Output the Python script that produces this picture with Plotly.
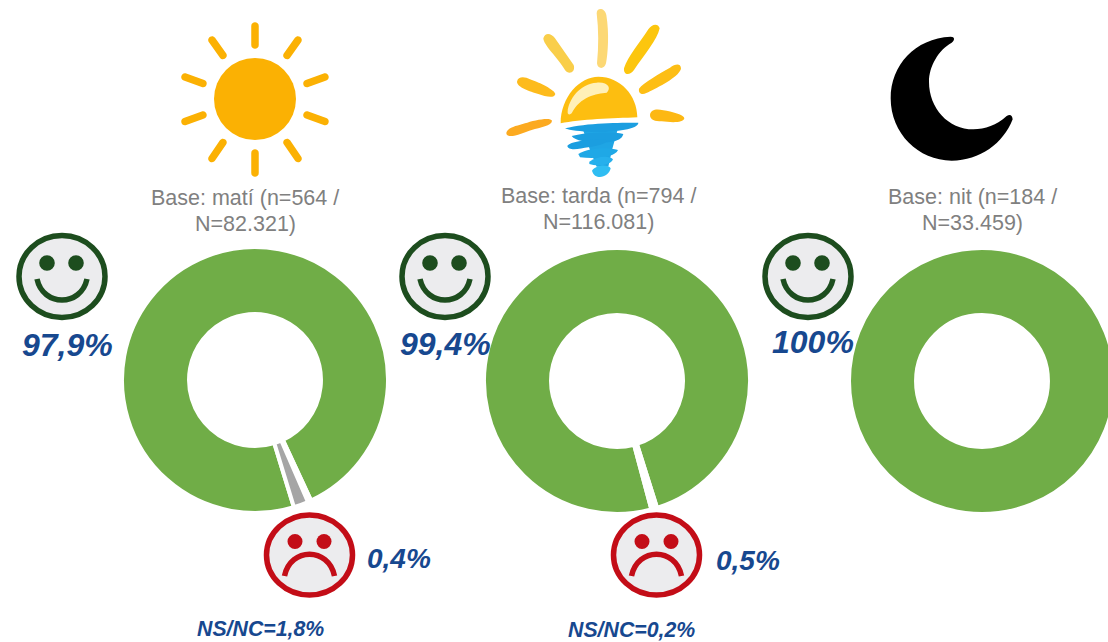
import re
import math
import plotly.graph_objects as go

# ---- data ----
periods = ["matí", "tarda", "nit"]
slices = ["Satisfet", "Insatisfet", "NS/NC"]
mati_values = [97.9, 0.4, 1.8]
tarda_values = [99.4, 0.5, 0.2]
nit_values = [100.0]
slice_colors = ["#70AD47", "#FFFFFF", "#A5A5A5"]
base_line1 = ["Base: matí (n=564 /", "Base: tarda (n=794 /", "Base: nit (n=184 /"]
base_line2 = ["N=82.321)", "N=116.081)", "N=33.459)"]
happy_labels = ["97,9%", "99,4%", "100%"]
sad_labels = ["0,4%", "0,5%"]
nsnc_labels = ["NS/NC=1,8%", "NS/NC=0,2%"]

# ---- canvas (third ring runs off the right edge of the window) ----
W, H = 1120, 642
FONT = "Liberation Sans, Arial, sans-serif"
BLUE = "#17488F"
GREY = "#808080"


def fx(x):
    return x / W


def fy(y):
    return 1 - y / H


def px_path(d):
    """SVG path in pixels (y down) -> path in paper coordinates."""
    out, axis = [], 0
    for tok in re.findall(r"[A-Za-z]|-?\d+\.?\d*", d):
        if tok.isalpha():
            out.append(tok)
            axis = 0
        else:
            v = float(tok)
            out.append(f"{fx(v) if axis == 0 else fy(v):.5f}")
            axis = 1 - axis
    return " ".join(out)


shapes = []


def fill_path(d, color):
    shapes.append(dict(type="path", xref="paper", yref="paper", path=px_path(d),
                       fillcolor=color, line=dict(width=0), layer="above"))


def stroke_path(d, color, width):
    shapes.append(dict(type="path", xref="paper", yref="paper", path=px_path(d),
                       line=dict(color=color, width=width), layer="above"))


def ellipse(cx, cy, rx, ry, fill, line=None, lw=0):
    shapes.append(dict(type="circle", xref="paper", yref="paper",
                       x0=fx(cx - rx), x1=fx(cx + rx), y0=fy(cy + ry), y1=fy(cy - ry),
                       fillcolor=fill, line=dict(color=line, width=lw) if line else dict(width=0),
                       layer="above"))


def capsule(x1, y1, x2, y2, w, color):
    r = w / 2
    L = math.hypot(x2 - x1, y2 - y1)
    ux, uy = (x2 - x1) / L, (y2 - y1) / L
    nx, ny = -uy * r, ux * r
    k = 1.33 * r
    d = (f"M {x1+nx} {y1+ny} L {x2+nx} {y2+ny} "
         f"C {x2+nx+ux*k} {y2+ny+uy*k} {x2-nx+ux*k} {y2-ny+uy*k} {x2-nx} {y2-ny} "
         f"L {x1-nx} {y1-ny} "
         f"C {x1-nx-ux*k} {y1-ny-uy*k} {x1+nx-ux*k} {y1+ny-uy*k} {x1+nx} {y1+ny} Z")
    fill_path(d, color)


def zoomed(d, ox, oy):
    """Path drawn in 3x crop coordinates -> pixels."""
    out, axis = [], 0
    for tok in re.findall(r"[A-Za-z]|-?\d+\.?\d*", d):
        if tok.isalpha():
            out.append(tok)
            axis = 0
        else:
            v = float(tok) / 3 + (ox if axis == 0 else oy)
            out.append(f"{v:.2f}")
            axis = 1 - axis
    return " ".join(out)


# ---- sun ----
SUN = "#FBB103"
ellipse(255, 99, 41, 41, SUN)
for r in [(255, 26, 255, 45), (298, 40, 287, 55.5), (325, 77, 307, 83.5),
          (307, 115, 325, 121.5), (287, 142.5, 298, 158.5), (255, 153, 255, 173),
          (223, 142.5, 212, 158.5), (203, 115, 185, 121.5), (203, 83.5, 185, 77),
          (223, 55.5, 212, 40)]:
    capsule(*r, 7.5, SUN)

# ---- sunset ----
SX, SY = 480, 0
for d, c in [
    ("M 350 40 C 350 22 374 22 379 45 C 388 100 384 160 378 190 C 373 210 352 207 351 190 C 356 140 356 90 350 40 Z", "#FCD875"),
    ("M 190 115 C 195 95 215 100 225 115 L 281 195 C 288 218 265 225 255 210 C 235 175 190 135 190 115 Z", "#F9CE4A"),
    ("M 539 85 C 534 68 515 73 505 88 C 480 128 443 170 432 205 C 430 227 450 227 462 210 C 492 165 532 120 539 85 Z", "#FCC60E"),
    ("M 603 205 C 601 188 585 193 570 203 C 540 220 490 248 477 266 C 474 287 495 284 510 274 C 545 257 601 227 603 205 Z", "#FDBE15"),
    ("M 510 345 C 512 328 530 326 550 331 C 575 335 613 345 613 355 C 611 370 570 367 545 364 C 525 364 510 360 510 345 Z", "#FDB813"),
    ("M 111 245 C 114 228 135 230 150 238 C 180 248 224 270 226 282 C 223 297 195 289 175 282 C 150 274 111 262 111 245 Z", "#FDBB1C"),
    ("M 79 400 C 79 383 110 378 135 370 C 160 361 212 350 216 362 C 216 377 180 382 155 390 C 130 399 81 420 79 400 Z", "#FCAA20"),
    ("M 242 370 C 242 290 300 230 355 230 C 420 230 472 285 472 352 C 400 355 300 358 242 370 Z", "#FDBE10"),
    ("M 263 335 C 265 300 300 250 350 248 C 385 245 395 265 380 278 C 350 280 300 290 275 340 C 270 345 262 345 263 335 Z", "#FFF0B8"),
    ("M 310 392 L 412 392 L 396 450 L 385 500 L 350 500 L 330 450 Z", "#1FA5E4"),
    ("M 255 385 C 320 368 420 368 475 368 C 475 388 400 397 340 396 C 300 394 270 392 255 385 Z", "#1B9EE0"),
    ("M 275 408 C 320 396 400 395 430 402 C 425 425 390 428 345 428 C 325 428 285 422 275 408 Z", "#1B9EE0"),
    ("M 262 438 C 270 425 320 418 380 418 C 385 432 350 438 325 442 C 300 446 265 454 262 438 Z", "#1B9EE0"),
    ("M 295 462 C 330 442 385 442 414 450 C 405 472 350 477 300 472 Z", "#1FA8E6"),
    ("M 328 485 C 350 468 390 466 399 478 C 392 497 350 500 328 492 Z", "#26B0EC"),
    ("M 336 512 C 350 493 385 493 392 505 C 387 532 345 544 336 512 Z", "#2FBDF2"),
]:
    fill_path(zoomed(d, SX, SY), c)

# ---- moon ----
fill_path(zoomed("M 272 50 C 165 55 92 135 92 235 C 92 340 175 422 275 422 C 360 422 430 370 458 298 "
                 "C 456 282 448 284 440 288 C 410 315 375 328 340 328 C 265 328 207 265 207 185 "
                 "C 207 140 235 90 275 68 C 285 60 285 50 272 50 Z", 860, 20), "#000000")

# ---- faces ----
DARK = "#1D4D1E"
for cx in [62, 445, 808]:
    ellipse(cx, 276.5, 43, 41, "#ECECEE", DARK, 5.5)
    ellipse(cx - 15, 263, 7.8, 7.8, DARK)
    ellipse(cx + 14, 263, 7.8, 7.8, DARK)
    stroke_path(f"M {cx-25} 279 C {cx-19} 307 {cx+19} 307 {cx+25} 279", DARK, 5.5)

RED = "#C30D17"
for cx in [309.5, 656.5]:
    ellipse(cx, 555, 43, 40, "#ECECEE", RED, 5.5)
    ellipse(cx - 14.5, 541.5, 7.5, 7.5, RED)
    ellipse(cx + 14.5, 541.5, 7.5, 7.5, RED)
    stroke_path(f"M {cx-25} 576 C {cx-19} 547 {cx+19} 547 {cx+25} 576", RED, 5.5)

# ---- rings ----
R = 133
centers = [(255, 380), (617, 381), (982, 381)]
series = [mati_values, tarda_values, nit_values]
rotations = [163, 165, 0]
fig = go.Figure()
for (cx, cy), vals, rot, name in zip(centers, series, rotations, periods):
    fig.add_trace(go.Pie(
        labels=slices[:len(vals)], values=vals, name=name, hole=0.496, sort=False,
        direction="clockwise", rotation=rot, textinfo="none", hoverinfo="label+percent",
        marker=dict(colors=slice_colors[:len(vals)], line=dict(color="#FFFFFF", width=4)),
        domain=dict(x=[fx(cx - R), fx(cx + R)], y=[fy(cy + R), fy(cy - R)]),
        showlegend=False,
    ))


# ---- text ----
def note(text, x, y, size, color, strong=False):
    return dict(text=text, xref="paper", yref="paper", x=fx(x), y=fy(y), xanchor="center",
                yanchor="middle", showarrow=False,
                font=dict(family=FONT, size=size, color=color,
                          weight="bold" if strong else "normal",
                          style="italic" if strong else "normal"))


annotations = []
for t1, t2, x, y in zip(base_line1, base_line2, [245, 598, 972], [198, 196, 197]):
    annotations.append(note(t1, x, y, 21.5, GREY))
    annotations.append(note(t2, x, y + 26, 21.5, GREY))
for t, x, y in zip(happy_labels, [67, 446, 813], [345, 344, 342]):
    annotations.append(note(t, x, y, 32, BLUE, True))
for t, x, y in zip(sad_labels, [399, 748], [558, 560]):
    annotations.append(note(t, x, y, 28, BLUE, True))
for t, x, y in zip(nsnc_labels, [260.5, 631], [629, 630]):
    annotations.append(note(t, x, y, 21.3, BLUE, True))

fig.update_layout(width=W, height=H, margin=dict(l=0, r=0, t=0, b=0),
                  paper_bgcolor="#FFFFFF", plot_bgcolor="#FFFFFF",
                  shapes=shapes, annotations=annotations)

fig.write_html("out.html", config=dict(displayModeBar=False),
               post_script="document.body.style.margin='0';document.body.style.overflow='hidden';"
                           "document.documentElement.style.overflow='hidden';")
